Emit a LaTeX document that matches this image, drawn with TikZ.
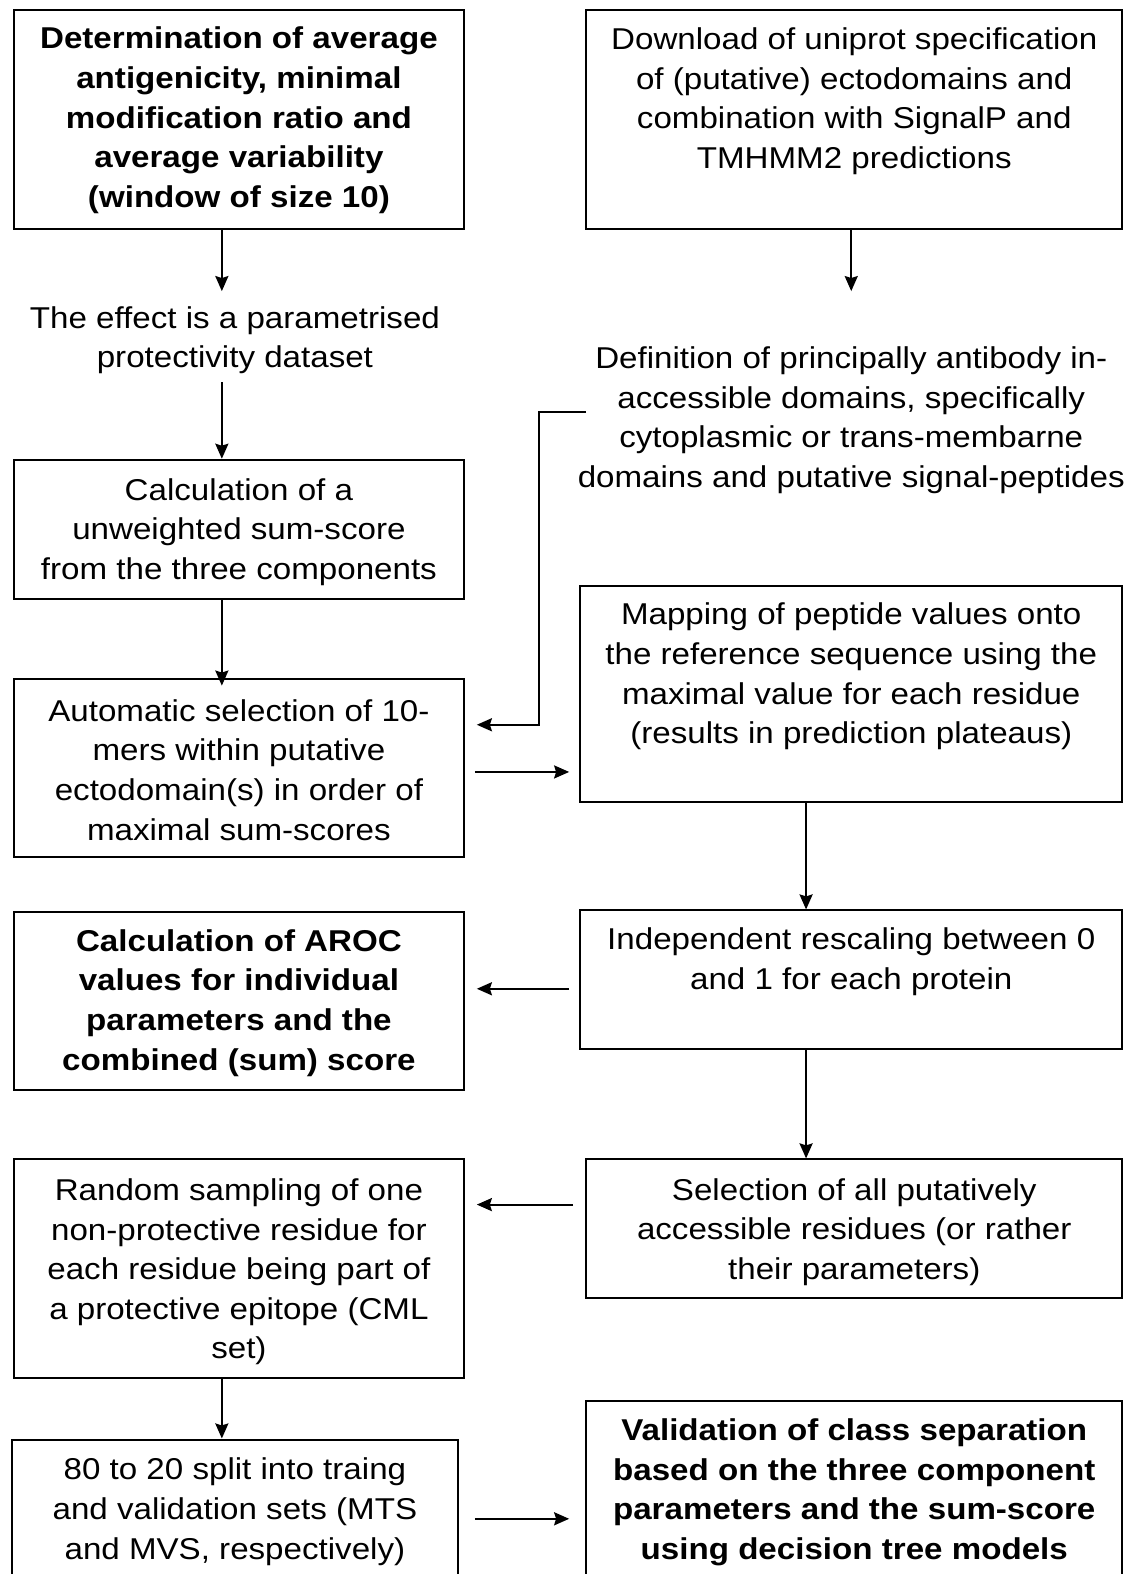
\documentclass[tikz,border=0pt]{standalone}
\usepackage{fontspec}
\setmainfont[FakeStretch=1.1]{Liberation Sans}
\usetikzlibrary{arrows.meta}
\begin{document}
\begin{tikzpicture}[x=1pt,y=-1pt,
  box/.style={draw,line width=2pt,inner sep=0pt,rectangle},
  txt/.style={align=center,inner sep=0pt,font=\fontsize{30}{39.5}\selectfont},
  btxt/.style={txt,font=\fontsize{30}{39.5}\selectfont\bfseries},
  arr/.style={line width=2pt,-{Stealth[length=15pt,width=13pt,inset=2pt]}}]
\useasboundingbox (0,0) rectangle (1130,1568);
\clip (0,0) rectangle (1130,1568);
% boxes
\node[box,minimum width=448pt,minimum height=218pt] (b1) at (238,119) {};
\node[box,minimum width=534pt,minimum height=218pt] (r1) at (851,119) {};
\node[box,minimum width=448pt,minimum height=139pt] (b3) at (238,527.5) {};
\node[box,minimum width=448pt,minimum height=178pt] (b4) at (238,765) {};
\node[box,minimum width=540pt,minimum height=215pt] (b5) at (848,691.5) {};
\node[box,minimum width=540pt,minimum height=138pt] (b6) at (848,976) {};
\node[box,minimum width=448pt,minimum height=177pt] (b7) at (238,997.5) {};
\node[box,minimum width=534pt,minimum height=138pt] (b8) at (851,1224) {};
\node[box,minimum width=448pt,minimum height=218pt] (b9) at (238,1264) {};
\node[box,minimum width=444pt,minimum height=166pt] (b10) at (234,1517) {};
\node[box,minimum width=534pt,minimum height=204pt] (b11) at (851,1498) {};
% texts
\node[btxt] (t1) at (238,120) {Determination of average\\antigenicity, minimal\\modification ratio and\\average variability\\(window of size 10)};
\node[txt] (t2) at (851,101) {Download of uniprot specification\\of (putative) ectodomains and\\combination with SignalP and\\TMHMM2 predictions};
\node[txt] (t3) at (234,339) {The effect is a parametrised\\protectivity dataset};
\node[txt] (t4) at (848,418.5) {Definition of principally antibody in-\\accessible domains, specifically\\cytoplasmic or trans-membarne\\domains and putative signal-peptides};
\node[txt] (t5) at (238,530) {Calculation of a\\unweighted sum-score\\from the three components};
\node[txt] (t6) at (238,767) {Automatic selection of 10-\\mers within putative\\ectodomain(s) in order of\\maximal sum-scores};
\node[txt] (t7) at (848,674) {Mapping of peptide values onto\\the reference sequence using the\\maximal value for each residue\\(results in prediction plateaus)};
\node[txt] (t8) at (848,958) {Independent rescaling between 0\\and 1 for each protein};
\node[btxt] (t9) at (238,999) {Calculation of AROC\\values for individual\\parameters and the\\combined (sum) score};
\node[txt] (t10) at (851,1227.5) {Selection of all putatively\\accessible residues (or rather\\their parameters)};
\node[txt] (t11) at (238,1267) {Random sampling of one\\non-protective residue for\\each residue being part of\\a protective epitope (CML\\set)};
\node[txt] (t12) at (234,1506) {80 to 20 split into traing\\and validation sets (MTS\\and MVS, respectively)};
\node[btxt] (t13) at (851,1486.5) {Validation of class separation\\based on the three component\\parameters and the sum-score\\using decision tree models};
% helper coordinates
\coordinate (lx) at (221,0);
\coordinate (rx) at (803,0);
\coordinate (e1) at (221,290);
\coordinate (e2) at (848,290);
\coordinate (c2) at (584,410);
\coordinate (bend) at (537,722);
\coordinate (y1) at (0,769);
\coordinate (y2) at (0,985);
\coordinate (y3) at (0,1200);
\coordinate (y4) at (0,1513);
% connectors
\draw[arr] (b1.south -| lx) -- (e1);
\draw[arr] (r1.south -| e2) -- (e2);
\draw[arr] ([yshift=-8pt]t3.south -| lx) -- (b3.north -| lx);
\draw[arr] (b3.south -| lx) -- ([yshift=-8pt]b4.north -| lx);
\draw[arr,shorten >=12pt] (c2) -| (bend) -- (b4.east |- bend);
\draw[arr,shorten <=10pt,shorten >=10pt] (b4.east |- y1) -- (b5.west |- y1);
\draw[arr] (b5.south -| rx) -- (b6.north -| rx);
\draw[arr,shorten <=10pt,shorten >=12pt] (b6.west |- y2) -- (b7.east |- y2);
\draw[arr] (b6.south -| rx) -- (b8.north -| rx);
\draw[arr,shorten <=12pt,shorten >=12pt] (b8.west |- y3) -- (b9.east |- y3);
\draw[arr] (b9.south -| lx) -- (b10.north -| lx);
\draw[arr,shorten <=16pt,shorten >=16pt] (b10.east |- y4) -- (b11.west |- y4);
\end{tikzpicture}
\end{document}
